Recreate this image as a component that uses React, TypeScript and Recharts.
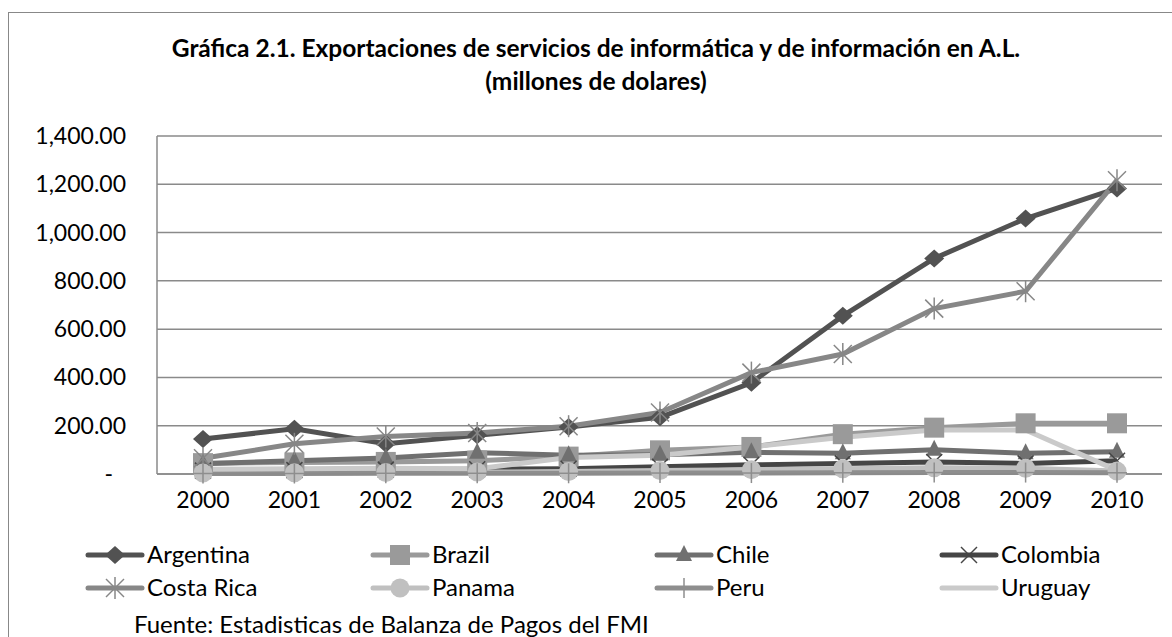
import React from "react";
import { LineChart, Line, XAxis, YAxis, CartesianGrid } from "recharts";

const years = ["2000", "2001", "2002", "2003", "2004", "2005", "2006", "2007", "2008", "2009", "2010"];

const argentina = [145, 187, 125, 160, 195, 235, 378, 655, 893, 1058, 1183];
const brazil = [45, 48, 50, 55, 72, 98, 112, 165, 192, 210, 210];
const chile = [42, 55, 66, 88, 78, 80, 90, 86, 100, 86, 92];
const colombia = [14, 16, 18, 20, 22, 30, 38, 44, 50, 44, 55];
const costaRica = [65, 125, 155, 170, 198, 255, 420, 497, 685, 757, 1217];
const panama = [4, 5, 6, 8, 10, 14, 18, 22, 26, 24, 12];
const peru = [2, 2, 3, 3, 3, 4, 4, 5, 6, 6, 5];
const uruguay = [20, 22, 24, 22, 68, 78, 112, 152, 182, 182, 15];

const yTicks = [0, 200, 400, 600, 800, 1000, 1200, 1400];

type Series = { name: string; values: number[]; color: string; marker: string };

const series: Series[] = [
    { name: "Argentina", values: argentina, color: "#525252", marker: "diamond" },
    { name: "Brazil", values: brazil, color: "#9a9a9a", marker: "square" },
    { name: "Chile", values: chile, color: "#707070", marker: "triangle" },
    { name: "Colombia", values: colombia, color: "#454545", marker: "x" },
    { name: "Costa Rica", values: costaRica, color: "#878787", marker: "star" },
    { name: "Panama", values: panama, color: "#c0c0c0", marker: "circle" },
    { name: "Peru", values: peru, color: "#8e8e8e", marker: "plus" },
    { name: "Uruguay", values: uruguay, color: "#cacaca", marker: "none" },
];

const data = years.map((y, i) => {
    const row: Record<string, string | number> = { year: y };
    series.forEach((s) => {
        row[s.name] = s.values[i];
    });
    return row;
});

const FONT = "Lato, 'Open Sans', sans-serif";

const drawMarker = (marker: string, color: string, cx: number, cy: number, key?: string) => {
    switch (marker) {
        case "diamond":
            return <path key={key} d={`M${cx},${cy - 9}L${cx + 10},${cy}L${cx},${cy + 9}L${cx - 10},${cy}Z`} fill={color} />;
        case "square":
            return <rect key={key} x={cx - 10} y={cy - 10} width={20} height={20} fill={color} />;
        case "triangle":
            return <path key={key} d={`M${cx},${cy - 10}L${cx + 8},${cy + 6}L${cx - 8},${cy + 6}Z`} fill={color} />;
        case "x":
            return (
                <g key={key} stroke={color} strokeWidth={1.5}>
                    <line x1={cx - 8} y1={cy - 8} x2={cx + 8} y2={cy + 8} />
                    <line x1={cx - 8} y1={cy + 8} x2={cx + 8} y2={cy - 8} />
                </g>
            );
        case "star":
            return (
                <g key={key} stroke={color} strokeWidth={1.5}>
                    <line x1={cx - 9} y1={cy - 9} x2={cx + 9} y2={cy + 9} />
                    <line x1={cx - 9} y1={cy + 9} x2={cx + 9} y2={cy - 9} />
                    <line x1={cx} y1={cy - 11} x2={cx} y2={cy + 11} />
                </g>
            );
        case "circle":
            return <circle key={key} cx={cx} cy={cy} r={9.5} fill={color} />;
        case "plus":
            return (
                <g key={key} stroke={color} strokeWidth={1.5}>
                    <line x1={cx} y1={cy - 10} x2={cx} y2={cy + 10} />
                    <line x1={cx - 10} y1={cy} x2={cx + 10} y2={cy} />
                </g>
            );
        default:
            return <g key={key} />;
    }
};

const YTick = (props: any) => {
    const { x, y, payload } = props;
    const v = payload.value as number;
    const label =
        v === 0 ? "-" : v.toLocaleString("en-US", { minimumFractionDigits: 2, maximumFractionDigits: 2 });
    return (
        <text x={v === 0 ? x - 36 : x - 23} y={y + 8} textAnchor="end" fontSize={23} fill="#000" fontFamily={FONT}>
            {label}
        </text>
    );
};

const XTick = (props: any) => {
    const { x, y, payload } = props;
    return (
        <text x={x} y={y} dy={26} textAnchor="middle" fontSize={23} fill="#000" fontFamily={FONT}>
            {payload.value}
        </text>
    );
};

// legend line start x for each column, row centre y
const legendCols = [88, 373, 657, 942];
const legendRows = [555, 588];

export default function App() {
    return (
        <div style={{ position: "absolute", left: 0, top: 0, width: 1172, height: 637, overflow: "hidden", background: "#fff" }}>
            <div
                style={{
                    position: "absolute",
                    left: 8,
                    top: 12,
                    width: 1200,
                    height: 700,
                    border: "1.5px solid #888",
                }}
            />
            <div style={{ position: "absolute", left: 0, top: 0 }}>
                <LineChart width={1172} height={637} data={data} margin={{ top: 136, right: 10, left: 0, bottom: 123 }}>
                    <CartesianGrid vertical={false} stroke="#8a8a8a" strokeWidth={1.5} />
                    <XAxis
                        dataKey="year"
                        stroke="#8a8a8a"
                        strokeWidth={1.5}
                        tickLine={false}
                        height={40}
                        padding={{ left: 46, right: 45 }}
                        tick={<XTick />}
                    />
                    <YAxis
                        width={157}
                        domain={[0, 1400]}
                        ticks={yTicks}
                        stroke="#8a8a8a"
                        strokeWidth={1.5}
                        tickLine={false}
                        tick={<YTick />}
                    />
                    {series.map((s) => (
                        <Line
                            key={s.name}
                            dataKey={s.name}
                            stroke={s.color}
                            strokeWidth={5}
                            isAnimationActive={false}
                            dot={(p: any) => drawMarker(s.marker, s.color, p.cx, p.cy, `${s.name}-${p.index}`)}
                            activeDot={false}
                        />
                    ))}
                </LineChart>
            </div>
            <svg style={{ position: "absolute", left: 0, top: 0 }} width={1172} height={637}>
                <text x={596} y={57} textAnchor="middle" fontSize={24.5} fontWeight="bold" fontFamily={FONT} fill="#000">
                    Gráfica 2.1. Exportaciones de servicios de informática y de información en A.L.
                </text>
                <text x={596} y={90} textAnchor="middle" fontSize={24.5} fontWeight="bold" fontFamily={FONT} fill="#000">
                    (millones de dolares)
                </text>
                {series.map((s, i) => {
                    const x = legendCols[i % 4];
                    const y = legendRows[Math.floor(i / 4)];
                    return (
                        <g key={s.name}>
                            <line x1={x} y1={y} x2={x + 54} y2={y} stroke={s.color} strokeWidth={5} strokeLinecap="round" />
                            {drawMarker(s.marker, s.color, x + 27, y)}
                            <text x={x + 59} y={y + 8} fontSize={24} fontFamily={FONT} fill="#000">
                                {s.name}
                            </text>
                        </g>
                    );
                })}
                <text x={134} y={633} fontSize={24} fontFamily={FONT} fill="#000">
                    Fuente: Estadisticas de Balanza de Pagos del FMI
                </text>
            </svg>
        </div>
    );
}
